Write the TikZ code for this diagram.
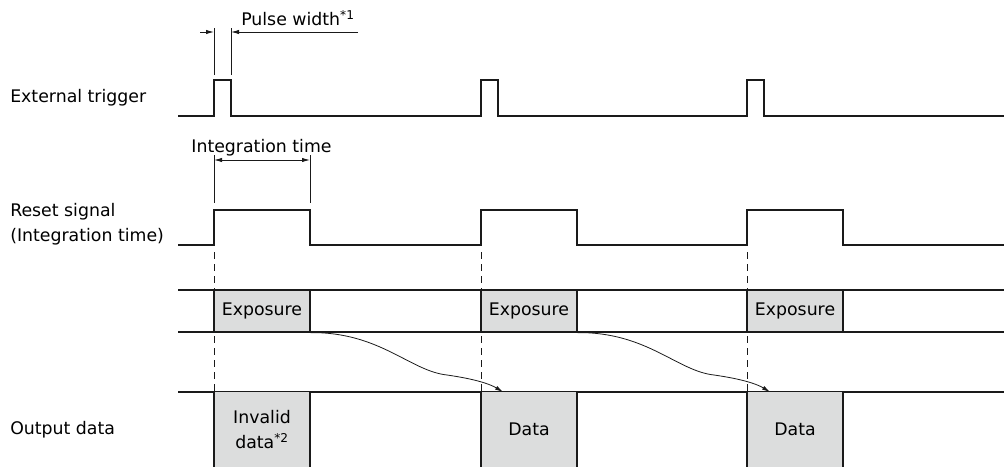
\documentclass[tikz,border=0pt]{standalone}
\usepackage{fontspec}
\setmainfont{DejaVu Sans}
\usetikzlibrary{arrows.meta}
\definecolor{boxgray}{HTML}{DCDDDD}
\definecolor{ink}{HTML}{1A1A1A}

\begin{document}
\begin{tikzpicture}[x=0.75pt, y=-0.75pt,
	every node/.style={inner sep=0pt, font=\fontsize{13}{18.5}\selectfont},
	sig/.style={draw=ink, line width=1.3pt},
	band/.style={draw=ink, line width=0.9pt},
	dim/.style={draw=ink, line width=0.6pt},
	tip/.style={-{Latex[length=6pt,width=3.2pt]}},
	tips/.style={{Latex[length=6pt,width=3.2pt]}-{Latex[length=6pt,width=3.2pt]}},
	expbox/.style={rectangle, draw=ink, line width=0.9pt, fill=boxgray, minimum width=72pt, minimum height=31.5pt},
	outbox/.style={rectangle, fill=boxgray, minimum width=72pt, minimum height=56.25pt, align=center}]
					\useasboundingbox (0,0) rectangle (1005,467);
					
					\node[anchor=west] (ext) at (10,98) {External trigger};
					\node[anchor=west, align=left] (reset) at (10,224.5) {Reset signal\\(Integration time)};
					\node[anchor=west] (outlbl) at (10,430) {Output data};
					
					\draw[sig] (178,116) -- (214,116) -- (214,80) -- (231,80) -- (231,116) -- (481,116) -- (481,80) -- (498,80) -- (498,116) -- (747,116) -- (747,80) -- (764,80) -- (764,116) -- (1004,116);
					\draw[sig] (178,245) -- (214,245) -- (214,210) -- (310,210) -- (310,245) -- (481,245) -- (481,210) -- (577,210) -- (577,245) -- (747,245) -- (747,210) -- (843,210) -- (843,245) -- (1004,245);
					
					\coordinate (pwA) at (200,32);
					\coordinate (pwL) at (214,32);
					\coordinate (pwR) at (231,32);
					\coordinate (pwB) at (358,32);
					\draw[dim] (214,75) -- (214,28);
					\draw[dim] (231,75) -- (231,28);
					\draw[dim, tip] (pwA) -- (pwL);
					\draw[dim, tip] (pwB) -- (pwR);
					\node[anchor=west] (pw) at (241,18) {Pulse width\textsuperscript{*1}};
					
					\coordinate (itL) at (214,160);
					\coordinate (itR) at (310,160);
					\draw[dim] (214,155) -- (214,203);
					\draw[dim] (310,155) -- (310,203);
					\draw[dim, tips] (itL) -- (itR);
					\node (it) at (261.5,148) {Integration time};
					
					\draw[dim, dash pattern=on 5pt off 4pt] (214,252) -- (214,392);
					\draw[dim, dash pattern=on 5pt off 4pt] (481,252) -- (481,392);
					\draw[dim, dash pattern=on 5pt off 4pt] (747,252) -- (747,392);
					
					\draw[band] (178,290) -- (1004,290);
					\draw[band] (178,332) -- (1004,332);
					\draw[band] (178,392) -- (1004,392);
					
					\node[expbox] (exp1) at (262,311) {Exposure};
					\node[expbox] (exp2) at (529,311) {Exposure};
					\node[expbox] (exp3) at (795,311) {Exposure};
					
					\node[outbox] (dat1) at (262,429.5) {Invalid\\data\textsuperscript{*2}};
					\node[outbox] (dat2) at (529,429.5) {Data};
					\node[outbox] (dat3) at (795,429.5) {Data};
					\draw[sig] (dat1.north west) -- (dat1.south west);
					\draw[sig] (dat1.north east) -- (dat1.south east);
					\draw[sig] (dat2.north west) -- (dat2.south west);
					\draw[sig] (dat2.north east) -- (dat2.south east);
					\draw[sig] (dat3.north west) -- (dat3.south west);
					\draw[sig] (dat3.north east) -- (dat3.south east);
					
					\coordinate (in2) at (503,392);
					\coordinate (in3) at (770,392);
					\draw[dim, tip] (exp1.south east) .. controls (380,332) and (410,371) .. (447,375) .. controls (475,379) and (490,384) .. (in2);
					\draw[dim, tip] (exp2.south east) .. controls (647,332) and (677,371) .. (714,375) .. controls (742,379) and (757,384) .. (in3);
					\end{tikzpicture}
\end{document}
